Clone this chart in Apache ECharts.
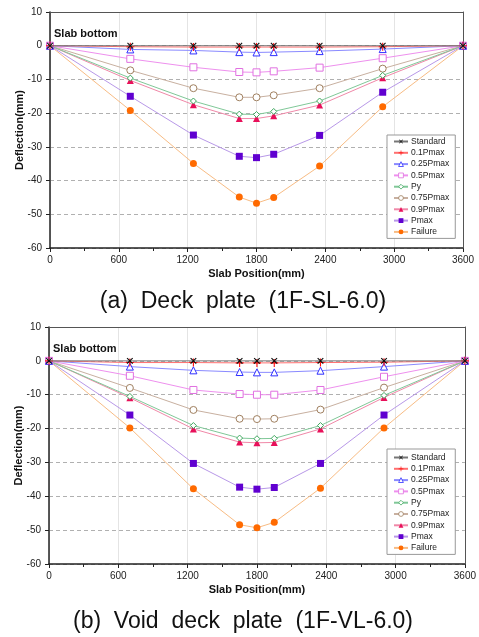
<!DOCTYPE html>
<html>
<head>
<meta charset="utf-8">
<script src="https://cdn.jsdelivr.net/npm/echarts@6/dist/echarts.min.js"></script>
<style>
html,body{margin:0;padding:0;background:#fff;}
#chart{width:479px;height:637px;}
</style>
</head>
<body>
<div id="chart"></div>
<script>
// ---- data ----
const positions = [0, 700, 1250, 1650, 1800, 1950, 2350, 2900, 3600];
const xTicks = [0, 600, 1200, 1800, 2400, 3000, 3600];
const yTicks = [10, 0, -10, -20, -30, -40, -50, -60];
const seriesNames = ['Standard', '0.1Pmax', '0.25Pmax', '0.5Pmax', 'Py', '0.75Pmax', '0.9Pmax', 'Pmax', 'Failure'];

// (a) Deck plate (1F-SL-6.0)
const standardA = [0, 0, 0, 0, 0, 0, 0, 0, 0];
const p01A      = [0, -0.3, -0.4, -0.4, -0.4, -0.4, -0.4, -0.3, 0];
const p025A     = [0, -1.1, -1.4, -1.9, -2.0, -1.9, -1.6, -1.0, 0];
const p05A      = [0, -3.9, -6.4, -7.8, -7.9, -7.6, -6.5, -3.7, 0];
const pyA       = [0, -9.6, -16.4, -20.3, -20.4, -19.5, -16.4, -8.8, 0];
const p075A     = [0, -7.3, -12.6, -15.3, -15.3, -14.7, -12.6, -6.8, 0];
const p09A      = [0, -10.3, -17.5, -21.6, -21.6, -20.8, -17.6, -9.5, 0];
const pmaxA     = [0, -15.0, -26.5, -32.8, -33.2, -32.2, -26.6, -13.8, 0];
const failA     = [0, -19.2, -34.9, -44.9, -46.7, -45.0, -35.7, -18.1, 0];

// (b) Void deck plate (1F-VL-6.0)
const standardB = [0, 0, 0, 0, 0, 0, 0, 0, 0];
const p01B      = [0, -0.5, -0.5, -0.6, -0.6, -0.6, -0.5, -0.4, 0];
const p025B     = [0, -1.7, -2.8, -3.3, -3.4, -3.4, -2.9, -1.7, 0];
const p05B      = [0, -4.4, -8.6, -9.8, -10.0, -10.0, -8.6, -4.7, 0];
const pyB       = [0, -10.5, -19.1, -22.8, -23.0, -22.9, -19.1, -10.2, 0];
const p075B     = [0, -8.0, -14.5, -17.1, -17.2, -17.1, -14.4, -7.9, 0];
const p09B      = [0, -10.9, -20.1, -24.0, -24.2, -24.1, -20.1, -10.8, 0];
const pmaxB     = [0, -16.0, -30.3, -37.3, -37.9, -37.4, -30.3, -16.0, 0];
const failB     = [0, -19.8, -37.8, -48.4, -49.3, -47.7, -37.6, -19.8, 0];

const captionA = '(a)  Deck  plate  (1F-SL-6.0)';
const captionB = '(b)  Void  deck  plate  (1F-VL-6.0)';
const panelLabel = 'Slab bottom';
const xName = 'Slab Position(mm)';
const yName = 'Deflection(mm)';

// ---- styling ----
const FONT = '"Liberation Sans", Arial, sans-serif';
const PLUS = 'path://M4.3,0H5.7V4.3H10V5.7H5.7V10H4.3V5.7H0V4.3H4.3Z';
const styles = [
  {symbol: PLUS, rotate: 45, size: 8, color: '#111', line: '#777', hollow: false},
  {symbol: PLUS, rotate: 0, size: 8, color: '#ff1010', line: '#ff7070', hollow: false},
  {symbol: 'triangle', rotate: 0, size: 7, color: '#3030ff', line: '#8a8aff', hollow: true},
  {symbol: 'rect', rotate: 0, size: 7, color: '#e070e0', line: '#ee90ee', hollow: true},
  {symbol: 'diamond', rotate: 0, size: 6, color: '#40a860', line: '#80c898', hollow: true},
  {symbol: 'circle', rotate: 0, size: 7, color: '#a08060', line: '#c8b0a0', hollow: true},
  {symbol: 'triangle', rotate: 0, size: 7, color: '#e8105a', line: '#f088a8', hollow: false},
  {symbol: 'rect', rotate: 0, size: 7, color: '#6000d0', line: '#b898e8', hollow: false},
  {symbol: 'circle', rotate: 0, size: 7, color: '#ff6a00', line: '#f8bc84', hollow: false}
];
const dataA = [standardA, p01A, p025A, p05A, pyA, p075A, p09A, pmaxA, failA];
const dataB = [standardB, p01B, p025B, p05B, pyB, p075B, p09B, pmaxB, failB];

function pairs(vals) { return positions.map((x, i) => [x, vals[i]]); }

const series = [];
[dataA, dataB].forEach((set, gi) => {
  set.forEach((vals, i) => {
    const s = styles[i];
    series.push({
      name: seriesNames[i],
      type: 'line',
      xAxisIndex: gi,
      yAxisIndex: gi,
      data: pairs(vals),
      symbol: s.symbol,
      symbolRotate: s.rotate,
      symbolSize: s.size,
      showAllSymbol: true,
      z: 20 - i,
      lineStyle: {color: s.line, width: 1},
      itemStyle: s.hollow ? {color: '#fff', borderColor: s.color, borderWidth: 1} : {color: s.color, borderWidth: 0},
      emphasis: {disabled: true},
      animation: false
    });
  });
});

const grids = [
  {left: 50, top: 12, width: 413, height: 236},
  {left: 49, top: 327, width: 416, height: 237}
];

function mainX(gi) {
  return {
    type: 'value', gridIndex: gi, min: xTicks[0], max: xTicks[xTicks.length - 1],
    interval: xTicks[1] - xTicks[0],
    name: xName, nameLocation: 'middle', nameGap: 20, nameMoveOverlap: false,
    nameTextStyle: {fontFamily: FONT, fontSize: 11, fontWeight: 'bold', color: '#111'},
    axisLine: {show: true, onZero: false, lineStyle: {color: '#222', width: 1.5}},
    axisTick: {show: true, inside: false, length: 4, lineStyle: {color: '#222'}},
    minorTick: {show: true, splitNumber: 2, length: 3, lineStyle: {color: '#222'}},
    axisLabel: {fontFamily: FONT, fontSize: 10, color: '#222', margin: 7, formatter: v => String(v)},
    splitLine: {show: true, lineStyle: {color: '#e4e4e4', width: 1, type: 'solid'}}
  };
}
function mainY(gi) {
  return {
    type: 'value', gridIndex: gi, min: yTicks[yTicks.length - 1], max: yTicks[0],
    interval: yTicks[0] - yTicks[1],
    name: yName, nameLocation: 'middle', nameGap: 25, nameMoveOverlap: false,
    nameTextStyle: {fontFamily: FONT, fontSize: 11, fontWeight: 'bold', color: '#111'},
    axisLine: {show: true, onZero: false, lineStyle: {color: '#222', width: 1.5}},
    axisTick: {show: true, inside: false, length: 4, lineStyle: {color: '#222'}},
    axisLabel: {fontFamily: FONT, fontSize: 10, color: '#222', margin: 8, formatter: v => String(v)},
    splitLine: {show: true, lineStyle: {color: '#b0b0b0', width: 1, type: [4, 3]}}
  };
}
function frameX(gi) {
  return {type: 'value', gridIndex: gi, position: 'top', min: 0, max: 3600, z: 5,
    axisLine: {show: true, onZero: false, lineStyle: {color: '#555', width: 1}},
    axisTick: {show: false}, axisLabel: {show: false}, splitLine: {show: false}};
}
function frameY(gi) {
  return {type: 'value', gridIndex: gi, position: 'right', min: -60, max: 10, z: 5,
    axisLine: {show: true, onZero: false, lineStyle: {color: '#555', width: 1}},
    axisTick: {show: false}, axisLabel: {show: false}, splitLine: {show: false}};
}

function legend(top, pad) {
  return {
    data: seriesNames, orient: 'vertical', left: 387, top: top,
    itemWidth: 14, itemHeight: 6, itemGap: 2.3, padding: pad,
    backgroundColor: '#fff', borderColor: '#999', borderWidth: 1, borderRadius: 0,
    selectedMode: false,
    itemStyle: {borderWidth: 0.8},
    textStyle: {fontFamily: FONT, fontSize: 8.5, color: '#222', padding: [0, 0, 0, -2]}
  };
}

const option = {
  backgroundColor: '#fff',
  animation: false,
  grid: grids,
  xAxis: [mainX(0), mainX(1), frameX(0), frameX(1)],
  yAxis: [mainY(0), mainY(1), frameY(0), frameY(1)],
  legend: [legend(135, [2, 6, 2, 6]), legend(449, [4, 6, 2, 6])],
  series: series,
  graphic: [
    {type: 'text', x: 54, y: 33.5, style: {text: panelLabel, font: 'bold 11px ' + FONT, fill: '#111', verticalAlign: 'middle'}},
    {type: 'text', x: 53, y: 348.5, style: {text: panelLabel, font: 'bold 11px ' + FONT, fill: '#111', verticalAlign: 'middle'}},
    {type: 'text', x: 243, y: 302, style: {text: captionA, font: '23px ' + FONT, fill: '#111', align: 'center', verticalAlign: 'middle'}},
    {type: 'text', x: 243, y: 622, style: {text: captionB, font: '23px ' + FONT, fill: '#111', align: 'center', verticalAlign: 'middle'}}
  ]
};

const chart = echarts.init(document.getElementById('chart'), null, {renderer: 'canvas'});
chart.setOption(option);
</script>
</body>
</html>
